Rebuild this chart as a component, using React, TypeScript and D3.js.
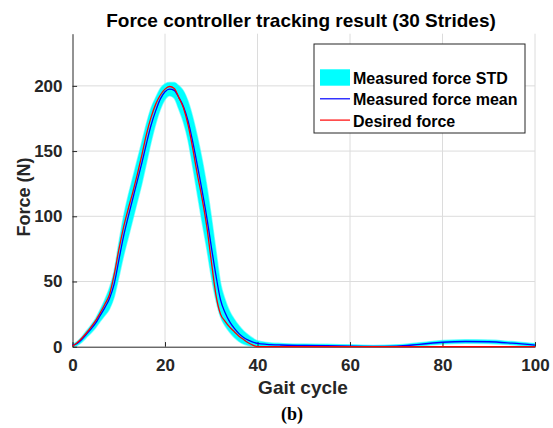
import React, { useEffect, useRef } from 'react';
import * as d3 from 'd3';

// gait cycle sample points (%)
const gaitCycle = [
  0, 1, 2, 3, 4, 5, 6, 7, 8, 9, 10, 11, 12, 13, 14, 15, 16, 17, 18, 19, 20,
  21, 22, 23, 24, 25, 26, 27, 28, 29, 30, 31, 32, 33, 34, 35, 36, 37, 38, 39, 40,
  42, 45, 50, 55, 60, 65, 70, 75, 80, 85, 90, 95, 100
];

// desired force (N)
const desiredForce = [
  0.5, 3, 6.5, 10.5, 15, 20, 26, 32.5, 40, 55, 74, 91, 105, 118, 132, 147, 163, 176, 186, 193, 197.5,
  199.5, 198, 191, 183, 170, 152, 132, 114, 93, 66, 40, 25, 19.5, 15, 11.5, 8, 5.5, 3, 1.2, 0,
  0, 0, 0, 0, 0, 0, 0, 0, 0, 0, 0, 0, 0
];

// measured force mean (N)
const measuredMean = [
  1, 2.5, 5.5, 9.5, 13.5, 18, 24, 30, 37, 48, 66, 84, 99, 113, 127, 141, 156, 170, 181, 190, 195.5,
  197.5, 196.5, 191, 184, 173, 157, 139, 120, 100, 77, 55, 36, 26, 19, 14, 10, 7, 5, 3.5, 2.5,
  1.8, 1.3, 1.0, 0.8, 0.4, 0.2, 0.4, 1.8, 3.4, 4, 3.8, 2.7, 1.2
];

// measured force standard deviation (N)
const measuredStd = [
  1, 1.5, 2, 2.5, 3, 3.5, 4.5, 6, 8, 10, 13, 15, 16, 16, 16, 16, 15, 13, 10, 8, 6,
  5, 6, 9, 12, 15, 19, 22, 24, 24, 23, 19, 13, 10, 8, 7, 6, 5, 4, 3, 2,
  1.5, 1.2, 1, 1, 1, 0.8, 1, 1.2, 1.3, 1.3, 1.3, 1.2, 1.2
];

const xTicks = [0, 20, 40, 60, 80, 100];
const yTicks = [0, 50, 100, 150, 200];

const legendItems = ['Measured force STD', 'Measured force mean', 'Desired force'];

const App = () => {
  const svgRef = useRef<SVGSVGElement>(null);

  useEffect(() => {
    if (!svgRef.current) return;
    document.body.style.margin = '0';

    const svg = d3.select(svgRef.current);
    svg.selectAll('*').remove();

    const width = 553;
    const height = 428;
    const margin = { top: 33.7, right: 18, bottom: 81.3, left: 72.5 };
    const innerWidth = width - margin.left - margin.right;
    const innerHeight = height - margin.top - margin.bottom;
    const font = "'Liberation Sans', Arial, sans-serif";
    const ink = '#262626';

    svg.attr('width', width).attr('height', height);
    svg.append('rect').attr('width', width).attr('height', height).attr('fill', '#fff');

    const x = d3.scaleLinear().domain([0, 100]).range([0, innerWidth]);
    const y = d3.scaleLinear().domain([0, 240]).range([innerHeight, 0]);

    svg.append('defs').append('clipPath').attr('id', 'plot-clip')
      .append('rect').attr('width', innerWidth).attr('height', innerHeight);

    const g = svg.append('g').attr('transform', `translate(${margin.left},${margin.top})`);

    // grid
    g.append('g')
      .selectAll('line')
      .data(xTicks.filter(t => t > 0))
      .join('line')
      .attr('x1', d => x(d)).attr('x2', d => x(d))
      .attr('y1', 0).attr('y2', innerHeight)
      .attr('stroke', '#dcdcdc').attr('stroke-width', 1);
    g.append('g')
      .selectAll('line')
      .data(yTicks.filter(t => t > 0))
      .join('line')
      .attr('x1', 0).attr('x2', innerWidth)
      .attr('y1', d => y(d)).attr('y2', d => y(d))
      .attr('stroke', '#dcdcdc').attr('stroke-width', 1);

    const idx = d3.range(gaitCycle.length);

    // std band
    const band = d3.area<number>()
      .x(i => x(gaitCycle[i]))
      .y0(i => y(measuredMean[i] - measuredStd[i]))
      .y1(i => y(measuredMean[i] + measuredStd[i]))
      .curve(d3.curveMonotoneX);
    g.append('path')
      .attr('clip-path', 'url(#plot-clip)')
      .attr('d', band(idx))
      .attr('fill', '#00ffff')
      .attr('stroke', '#00ffff')
      .attr('stroke-width', 1.5)
      .attr('stroke-opacity', 0.5);

    // axes
    const xAxis = g.append('g').attr('transform', `translate(0,${innerHeight})`)
      .call(d3.axisBottom(x).tickValues(xTicks).tickSizeInner(-4.6).tickSizeOuter(0).tickPadding(12));
    const yAxis = g.append('g')
      .call(d3.axisLeft(y).tickValues(yTicks).tickSizeInner(-4.6).tickSizeOuter(0).tickPadding(10));
    [xAxis, yAxis].forEach(ax => {
      ax.select('.domain').attr('stroke', ink);
      ax.selectAll('.tick line').attr('stroke', ink);
      ax.selectAll('.tick text')
        .attr('fill', ink)
        .attr('font-family', font)
        .attr('font-size', '17px')
        .attr('font-weight', 'bold');
    });

    const line = (values: number[]) => d3.line<number>()
      .x(i => x(gaitCycle[i]))
      .y(i => y(values[i]))
      .curve(d3.curveMonotoneX)(idx);

    g.append('path').attr('d', line(measuredMean))
      .attr('fill', 'none').attr('stroke', '#0000ff').attr('stroke-width', 1.3);
    g.append('path').attr('d', line(desiredForce))
      .attr('fill', 'none').attr('stroke', '#ff0000').attr('stroke-width', 1.3);

    // title and labels
    svg.append('text')
      .attr('x', 301).attr('y', 27)
      .attr('text-anchor', 'middle')
      .attr('font-family', font).attr('font-size', '19px').attr('font-weight', 'bold')
      .attr('fill', '#000')
      .text('Force controller tracking result (30 Strides)');

    svg.append('text')
      .attr('transform', 'translate(30,197) rotate(-90)')
      .attr('text-anchor', 'middle')
      .attr('font-family', font).attr('font-size', '18px').attr('font-weight', 'bold')
      .attr('fill', ink)
      .text('Force (N)');

    svg.append('text')
      .attr('x', 303).attr('y', 394)
      .attr('text-anchor', 'middle')
      .attr('font-family', font).attr('font-size', '19px').attr('font-weight', 'bold')
      .attr('fill', ink)
      .text('Gait cycle');

    svg.append('text')
      .attr('x', 292).attr('y', 420)
      .attr('text-anchor', 'middle')
      .attr('font-family', "'Liberation Serif', 'Times New Roman', serif")
      .attr('font-size', '18px').attr('font-weight', 'bold')
      .attr('fill', '#000')
      .text('(b)');

    // legend
    const lg = svg.append('g').attr('transform', 'translate(314,44)');
    lg.append('rect')
      .attr('width', 211).attr('height', 89)
      .attr('fill', '#fff').attr('stroke', ink).attr('stroke-width', 1);
    legendItems.forEach((label, i) => {
      const cy = 33.5 + i * 21.3;
      if (i === 0) {
        lg.append('rect').attr('x', 6).attr('y', cy - 8.2).attr('width', 30).attr('height', 16.4)
          .attr('fill', '#00ffff');
      } else {
        lg.append('line').attr('x1', 6).attr('x2', 36).attr('y1', cy).attr('y2', cy)
          .attr('stroke', i === 1 ? '#0000ff' : '#ff0000').attr('stroke-width', 1.2);
      }
      lg.append('text')
        .attr('x', 39).attr('y', cy + 6.5)
        .attr('font-family', font).attr('font-size', '16px').attr('font-weight', 'bold')
        .attr('fill', '#000')
        .text(label);
    });
  }, []);

  return <svg ref={svgRef} style={{ display: 'block' }}></svg>;
};

export default App;
